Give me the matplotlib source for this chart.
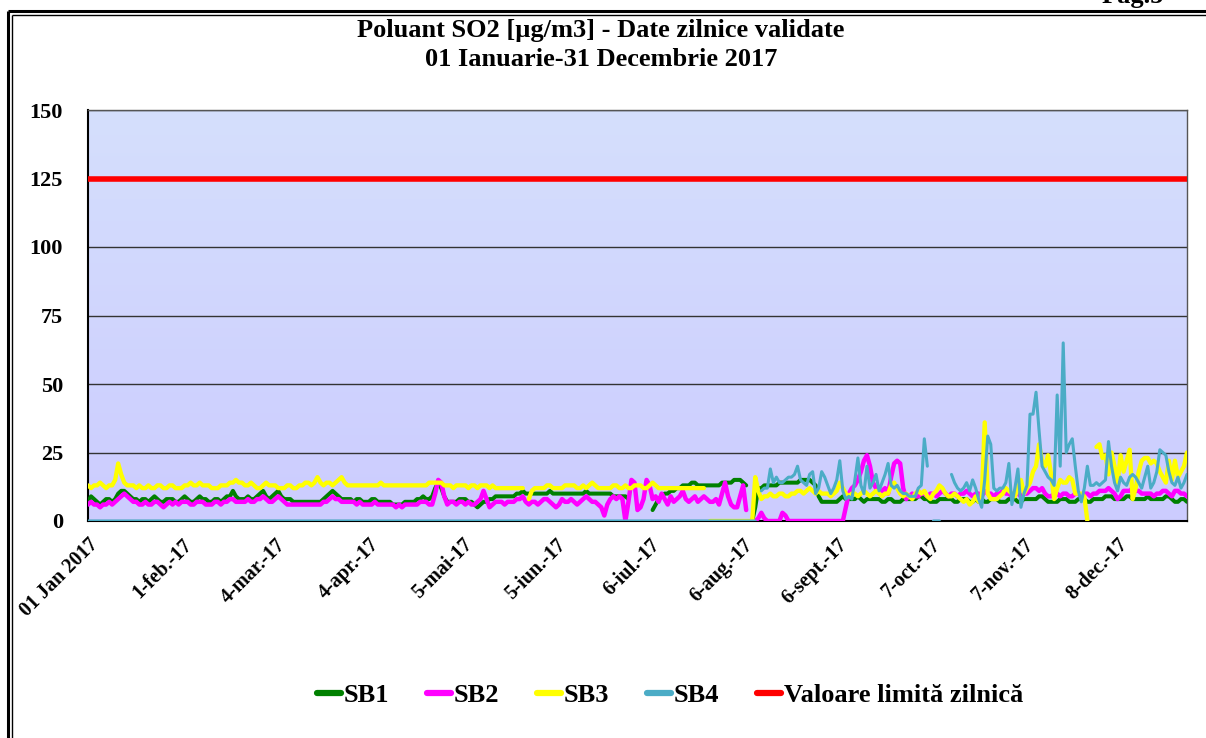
import numpy as np
import matplotlib
matplotlib.use("Agg")
import matplotlib.pyplot as plt
from matplotlib.lines import Line2D

nan = np.nan

title_line1 = "Poluant SO2 [µg/m3] - Date zilnice validate"
title_line2 = "01 Ianuarie-31 Decembrie 2017"
tick_labels = ["01 Jan 2017", "1-feb.-17", "4-mar.-17", "4-apr.-17", "5-mai-17", "5-iun.-17",
               "6-iul.-17", "6-aug.-17", "6-sept.-17", "7-oct.-17", "7-nov.-17", "8-dec.-17"]
series_names = ["SB1", "SB2", "SB3", "SB4"]
limit_name = "Valoare limită zilnică"
limit_value = 125

sb1 = [7,9,8,7,6,7,8,8,7,8,
       10,11,11,10,9,8,8,7,8,8,
       7,8,9,8,7,7,8,8,8,7,
       7,8,9,8,7,7,8,9,8,8,
       7,7,8,8,7,8,9,9,11,9,
       8,8,8,9,8,8,9,10,11,9,
       8,9,10,11,9,8,8,8,7,7,
       7,7,7,7,7,7,7,7,8,9,
       10,11,10,9,8,8,8,8,7,8,
       8,7,7,7,8,8,7,7,7,7,
       7,6,6,6,6,7,7,7,7,8,
       8,9,8,8,9,12,14,12,9,7,
       7,7,7,8,8,8,7,7,6,5,
       6,7,7,8,8,9,9,9,9,9,
       9,9,10,10,11,10,10,10,10,10,
       10,10,10,11,10,10,10,10,10,10,
       10,10,10,10,10,11,10,10,10,10,
       10,10,10,10,9,9,9,9,9,8,
       nan,nan,nan,nan,nan,nan,nan,4,6,8,
       9,10,10,11,11,12,12,13,13,13,
       14,14,13,13,13,13,13,13,13,13,
       14,14,14,14,15,15,15,14,13,nan,
       0,5,12,12,13,13,13,13,13,14,
       14,14,14,14,14,14,15,15,15,15,
       14,13,9,7,7,7,7,7,7,8,
       9,8,8,8,8,9,8,7,8,8,
       8,8,8,7,7,8,8,7,7,7,
       8,8,8,8,8,9,9,8,8,7,
       7,7,8,8,8,8,8,7,7,8,
       8,8,7,7,8,7,8,7,7,8,
       8,8,7,7,7,8,8,8,7,7,
       8,8,8,8,8,9,9,8,7,7,
       7,7,8,8,8,7,7,7,8,8,
       8,7,7,8,8,8,8,9,9,9,
       8,8,8,8,9,9,8,8,8,8,
       8,9,8,8,8,8,8,9,9,8,
       7,7,8,8,7]

sb2 = [6,7,6,6,5,6,6,7,6,7,
       8,9,10,9,8,7,7,6,6,7,
       6,6,7,7,6,5,6,7,6,7,
       6,7,7,7,6,6,7,7,7,6,
       6,6,7,7,6,7,7,8,8,7,
       7,7,7,8,7,7,8,8,9,8,
       7,7,8,9,8,7,6,6,6,6,
       6,6,6,6,6,6,6,6,7,7,
       8,9,8,8,7,7,7,7,7,6,
       7,6,6,6,6,7,6,6,6,6,
       6,6,5,6,5,6,6,6,6,6,
       7,7,7,6,6,10,15,14,9,6,
       7,7,6,7,7,6,7,6,6,7,
       8,11,8,5,6,7,7,7,6,7,
       7,7,8,8,9,7,6,7,7,6,
       7,8,8,7,6,5,6,8,7,7,
       8,7,6,7,8,9,8,7,7,6,
       5,2,6,8,9,8,9,8,0,7,
       15,14,4,5,8,15,13,8,9,7,
       10,8,6,9,7,8,9,11,8,7,
       8,9,7,8,9,8,7,7,8,6,
       10,14,9,6,5,5,9,13,4,nan,
       nan,0,1,3,1,0,0,0,0,0,
       3,2,0,0,0,0,0,0,0,0,
       0,0,0,0,0,0,0,0,0,0,
       0,5,10,12,13,15,18,22,24,20,
       14,12,11,11,12,10,16,21,22,21,
       12,8,9,10,9,9,10,10,9,10,
       10,9,10,11,10,9,10,10,9,10,
       10,11,10,9,10,10,9,11,10,10,
       9,10,10,11,10,10,9,10,10,9,
       10,10,11,12,12,11,12,10,9,9,
       10,10,9,10,10,9,9,10,10,9,
       10,10,9,10,10,11,11,11,12,11,
       10,8,9,11,11,11,12,11,11,10,
       10,10,10,9,10,10,11,11,10,9,
       11,11,10,10,9]

sb3 = [13,12,13,13,14,13,12,13,13,15,
       21,17,14,13,13,13,12,13,12,12,
       13,12,12,13,13,12,12,13,13,12,
       12,12,13,13,14,13,13,14,13,13,
       13,12,12,12,13,13,13,14,14,15,
       14,14,13,13,14,13,12,12,13,14,
       13,13,13,12,12,12,13,13,12,12,
       13,13,14,14,13,14,16,14,13,14,
       14,13,14,15,16,14,13,13,13,13,
       13,13,13,13,13,13,13,14,13,13,
       13,13,13,13,13,13,13,13,13,13,
       13,13,13,14,14,14,14,14,13,13,
       13,12,13,13,13,13,12,13,13,12,
       13,13,13,12,13,12,12,12,12,12,
       12,12,12,12,12,nan,8,11,12,12,
       12,12,13,13,12,12,12,12,13,13,
       13,13,12,12,13,12,13,14,13,12,
       12,12,12,12,13,13,12,12,13,12,
       12,13,13,13,12,12,13,14,13,12,
       12,12,12,12,12,12,12,12,12,12,
       12,12,12,12,12,nan,0,0,0,0,
       0,0,0,0,0,0,0,0,0,0,
       0,16,11,8,9,9,10,9,9,10,
       10,9,9,10,10,11,11,10,11,12,
       11,10,11,10,10,10,9,10,11,14,
       12,10,9,10,10,9,10,11,10,9,
       10,11,10,9,10,10,13,14,12,10,
       9,10,9,8,10,11,10,11,9,8,
       10,11,13,12,10,9,9,10,9,8,
       7,8,6,7,9,7,8,36,10,8,
       8,8,9,10,12,11,10,9,12,15,
       10,12,14,18,20,28,22,20,24,17,
       8,12,15,14,14,16,15,10,10,10,
       9,0,nan,nan,27,28,23,24,17,25,
       20,14,24,18,22,26,8,12,18,22,
       23,23,21,22,21,18,16,14,22,15,
       22,16,18,20,25]

sb4 = [0] * 222 + [nan,
       11,12,12,19,14,16,14,
       14,15,16,16,17,20,15,14,13,17,
       18,10,12,18,16,13,10,12,15,22,
       11,8,9,8,15,23,13,10,20,12,
       14,17,11,14,17,21,13,12,13,11,
       10,10,9,9,9,12,13,30,20,nan,
       0,0,0,nan,nan,nan,17,14,12,11,
       12,14,11,15,12,8,5,15,31,28,
       12,11,12,12,14,21,6,12,19,5,
       10,13,39,39,47,33,20,18,16,15,
       13,46,20,65,25,28,30,20,11,7,
       12,20,13,13,14,13,14,15,29,20,
       14,11,16,14,13,16,17,16,14,12,
       16,20,12,14,18,26,25,24,18,14,
       13,16,12,14,17]

colors = ["#008000", "#FF00FF", "#FFFF00", "#4BACC6"]
widths = [2.9, 3.2, 3.1, 2.2]

plt.rcParams['font.family'] = ['Liberation Serif', 'DejaVu Serif']
plt.rcParams['font.weight'] = 'bold'

W, H = 1206, 738
fig = plt.figure(figsize=(W / 100, H / 100), dpi=100)
fig.patch.set_facecolor("white")
ax = fig.add_axes([88 / W, 1 - 521 / H, (1187 - 88) / W, (521 - 110) / H])

# gradient background of the plot area
grad = np.linspace(0, 1, 256).reshape(-1, 1)
top_c = np.array([0.835, 0.875, 0.99])
bot_c = np.array([0.80, 0.80, 1.0])
img = top_c[None, None, :] * (1 - grad[:, :, None]) + bot_c[None, None, :] * grad[:, :, None]
ax.imshow(img, extent=[0, 1, 0, 1], transform=ax.transAxes, aspect='auto', zorder=0,
          interpolation='bilinear')

series = [sb1, sb2, sb3, sb4]
n = len(sb1)
x = np.arange(n)
handles = []
for name, vals, c, lw in zip(series_names, series, colors, widths):
    y = np.array(vals, dtype=float)
    ln, = ax.plot(x, y, color=c, lw=lw, label=name, zorder=3, solid_capstyle='round',
                  solid_joinstyle='round')
    handles.append(ln)
lim, = ax.plot(x, np.full(n, limit_value), color="#FF0000", lw=4.0, label=limit_name, zorder=4)
handles.append(lim)

ax.set_xlim(0, n - 1)
ax.set_ylim(0, 150)
ax.set_yticks(np.arange(0, 151, 25))
ax.yaxis.grid(True, color="#333333", lw=1.0, zorder=1)
ax.set_axisbelow(True)
ax.tick_params(axis='y', length=0, pad=18, labelsize=16)
for t in ax.get_yticklabels():
    t.set_fontweight('bold')

ticks = np.arange(0, n, 31)[:len(tick_labels)]
ax.set_xticks(ticks)
ax.set_xticklabels(tick_labels, rotation=45, ha='right', rotation_mode='anchor',
                   fontsize=14.5, fontweight='bold')
ax.tick_params(axis='x', length=0, pad=10)

for s in ["top", "right"]:
    ax.spines[s].set_color("#555555")
    ax.spines[s].set_linewidth(1.0)
ax.spines["left"].set_color("black")
ax.spines["left"].set_linewidth(1.5)
ax.spines["bottom"].set_color("black")
ax.spines["bottom"].set_linewidth(1.5)

fig.text(601 / W, 1 - 31 / H, title_line1, ha='center', va='center', fontsize=19, fontweight='bold')
fig.text(601 / W, 1 - 60 / H, title_line2, ha='center', va='center', fontsize=19, fontweight='bold')

leg = fig.legend(handles=handles, labels=series_names + [limit_name], loc='center',
                 bbox_to_anchor=(670 / W, 1 - 695 / H), ncol=5, frameon=False,
                 handlelength=0.9, handletextpad=0.1, columnspacing=1.45,
                 prop={'size': 19, 'weight': 'bold'})
for h in leg.legend_handles:
    h.set_linewidth(4.5)
    h.set_solid_capstyle('round')

# double border frame of the page
def px_line(x0, y0, x1, y1, lw, color="black"):
    fig.add_artist(Line2D([x0 / W, x1 / W], [1 - y0 / H, 1 - y1 / H], lw=lw, color=color,
                          transform=fig.transFigure, solid_capstyle='butt'))

px_line(7.5, 10.5, 7.5, H, 2.2)
px_line(7.5, 10.5, W, 10.5, 2.2)
px_line(12, 15, 12, H, 1.0)
px_line(12, 15, W, 15, 1.0)

# page number, partly cut by the top edge as in the source page
fig.text(1102 / W, 1 - 3 / H, "Pag.5", ha='left', va='baseline', fontsize=19, fontweight='bold')

fig.savefig("out.png", dpi=100)
